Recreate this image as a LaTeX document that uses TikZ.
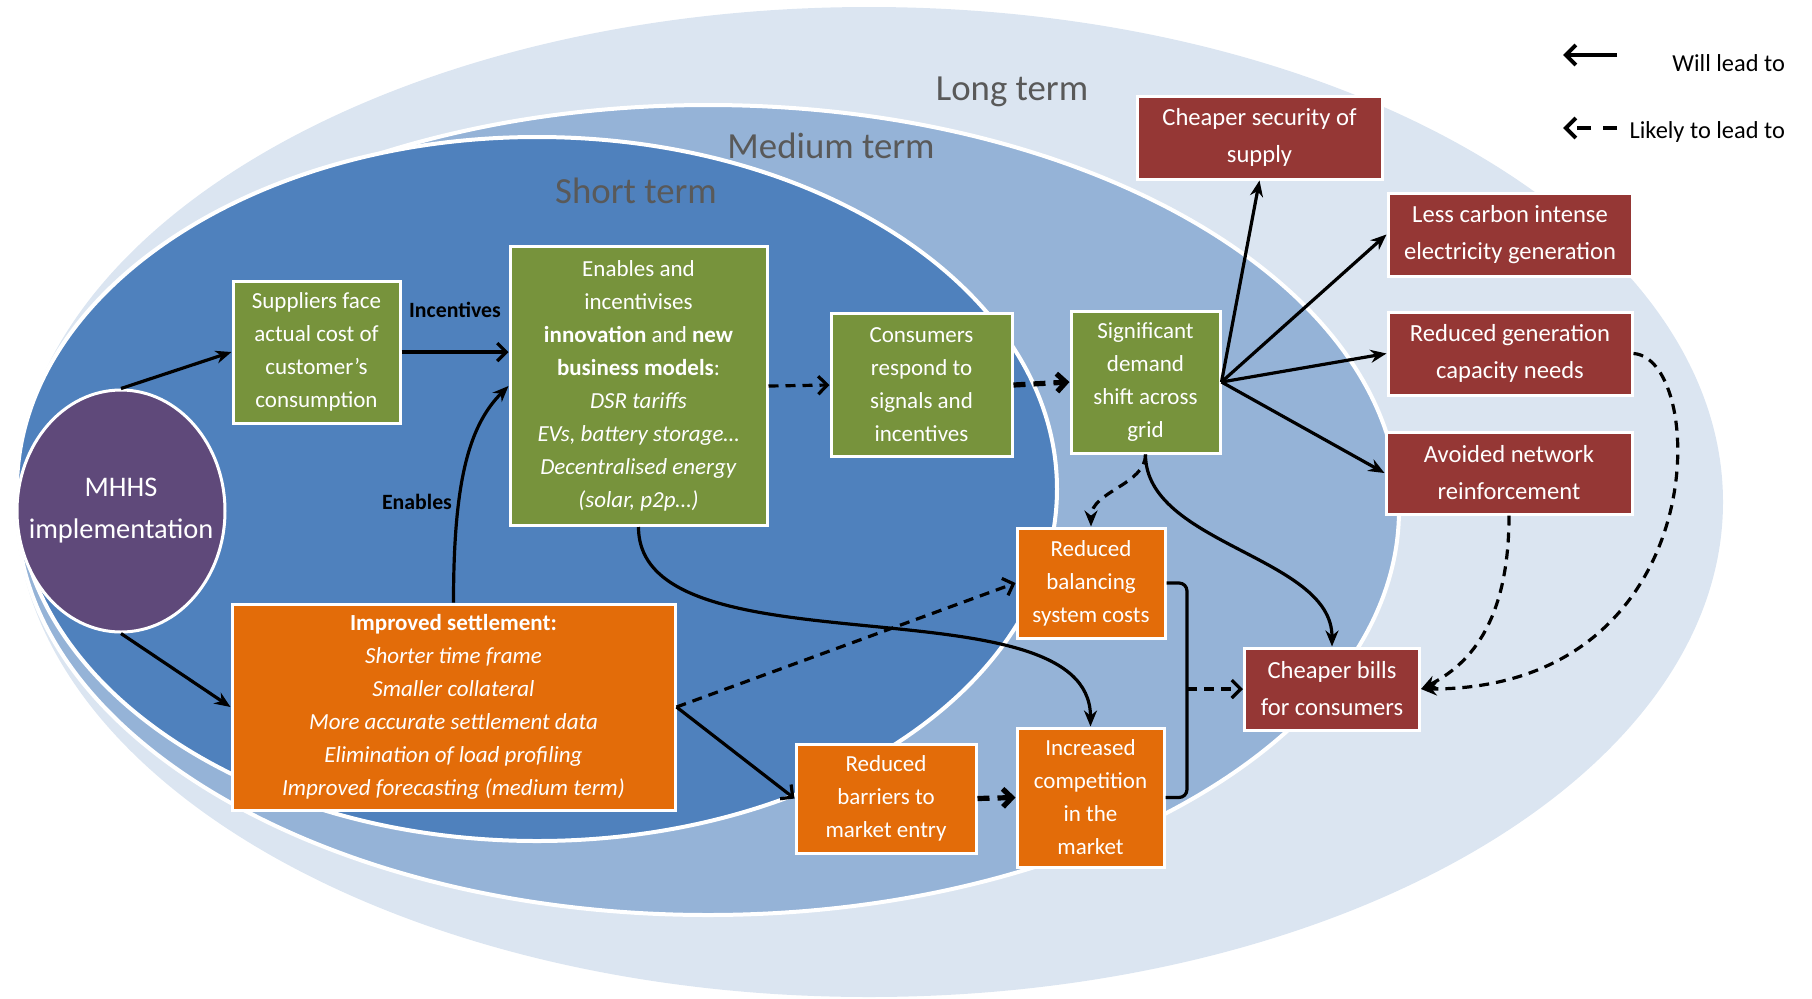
\documentclass[tikz,border=0pt]{standalone}
\usepackage{fontspec}
\setmainfont{Carlito}
\usepackage{xcolor}
\usepackage{tikz}
\usetikzlibrary{arrows.meta, positioning, calc, shapes.geometric}

\definecolor{longterm}{HTML}{DBE5F1}
\definecolor{medterm}{HTML}{95B3D7}
\definecolor{shortterm}{HTML}{4F81BD}
\definecolor{boxgreen}{HTML}{77933C}
\definecolor{boxorange}{HTML}{E36C09}
\definecolor{boxred}{HTML}{953735}
\definecolor{mhhspurple}{HTML}{5F497A}
\definecolor{termgray}{HTML}{595959}

\begin{document}
\begin{tikzpicture}[x=0.5pt, y=-0.5pt,
  box/.style={draw=white, line width=1.5pt, text=white, align=center, inner sep=2pt,
    font=\fontsize{11.5}{16.5}\selectfont},
  greenbox/.style={box, fill=boxgreen},
  orangebox/.style={box, fill=boxorange},
  redbox/.style={box, fill=boxred, font=\fontsize{12.3}{18.5}\selectfont},
  term/.style={text=termgray, font=\fontsize{18.4}{22}\selectfont},
  arrowlabel/.style={font=\bfseries\fontsize{10.9}{13}\selectfont},
  legendtext/.style={anchor=east, font=\fontsize{12.2}{14}\selectfont},
  lead/.style={line width=1.6pt},
  likely/.style={line width=1.6pt, dash pattern=on 5pt off 3.5pt},
  thickdash/.style={line width=2.6pt, dash pattern=on 6pt off 4pt},
  fillhead/.style={-{Stealth[length=8pt, width=6.5pt]}},
  openhead/.style={-{Straight Barb[length=4.5pt, width=9pt]}},
]
  \useasboundingbox (0,0) rectangle (1812,998);

  % Long, medium and short term
  \fill[longterm] (869,502) ellipse [x radius=427pt, y radius=247.5pt];
  \draw[white, line width=2pt, fill=medterm] (708,510) ellipse [x radius=345.5pt, y radius=202.5pt];
  \draw[white, line width=2pt, fill=shortterm] (537,489) ellipse [x radius=260pt, y radius=176pt];

  \node[term] (longlabel) at (1012,92) {Long term};
  \node[term] (medlabel) at (831,146) {Medium term};
  \node[term] (shortlabel) at (636,191) {Short term};

  % MHHS
  \node[ellipse, draw=white, line width=1.5pt, fill=mhhspurple, inner sep=0pt,
    minimum width=104pt, minimum height=121pt] (mhhs) at (121,511) {};
  \node[text=white, align=center, font=\fontsize{14.2}{21}\selectfont] (mhhstext) at (mhhs) {MHHS\\implementation};

  % Short term boxes
  \node[greenbox, minimum width=83.5pt, minimum height=71pt] (sup) at (316.5,352)
    {Suppliers face\\actual cost of\\customer’s\\consumption};
  \node[greenbox, minimum width=128.5pt, minimum height=139.5pt] (enab) at (638.5,386)
    {Enables and\\incentivises\\\textbf{innovation} and \textbf{new}\\\textbf{business models}:\\
     \textit{DSR tariffs}\\\textit{EVs, battery storage…}\\\textit{Decentralised energy}\\\textit{(solar, p2p…)}};
  \node[greenbox, minimum width=90.5pt, minimum height=71.5pt] (cons) at (921.5,385)
    {Consumers\\respond to\\signals and\\incentives};
  \node[orangebox, minimum width=221.5pt, minimum height=103pt] (sett) at (453.5,707)
    {\textbf{Improved settlement:}\\\textit{Shorter time frame}\\\textit{Smaller collateral}\\
     \textit{More accurate settlement data}\\\textit{Elimination of load profiling}\\
     \textit{Improved forecasting (medium term)}};

  % Medium term boxes
  \node[greenbox, minimum width=74.5pt, minimum height=71pt] (sig) at (1145.5,382)
    {Significant\\demand\\shift across\\grid};
  \node[orangebox, minimum width=74pt, minimum height=55pt] (bal) at (1091,583)
    {Reduced\\balancing\\system costs};
  \node[orangebox, minimum width=73.5pt, minimum height=69.5pt] (comp) at (1090.5,797.5)
    {Increased\\competition\\in the\\market};
  \node[orangebox, minimum width=90pt, minimum height=54.5pt] (barr) at (886,798.5)
    {Reduced\\barriers to\\market entry};

  % Long term boxes
  \node[redbox, minimum width=122.5pt, minimum height=41.5pt] (sec) at (1259.5,137.5)
    {Cheaper security of\\supply};
  \node[redbox, minimum width=122pt, minimum height=41.5pt] (carb) at (1510,234.5)
    {Less carbon intense\\electricity generation};
  \node[redbox, minimum width=122pt, minimum height=41.5pt] (gen) at (1510,353.5)
    {Reduced generation\\capacity needs};
  \node[redbox, minimum width=123pt, minimum height=41pt] (netw) at (1509,473)
    {Avoided network\\reinforcement};
  \node[redbox, minimum width=87.5pt, minimum height=41pt] (bills) at (1332,689)
    {Cheaper bills\\for consumers};

  % Connectors
  \draw[lead, fillhead] (mhhs.north) -- (sup.west);
  \draw[lead, fillhead] (mhhs.south) -- (sett.west);
  \draw[lead, openhead] (sup.east) -- (sup.east -| enab.west)
    node[midway, above=13pt, arrowlabel] {Incentives};
  \draw[lead, fillhead] (sett.north) .. controls +(0,-120) and +(-40,40) .. (enab.west);
  \node[arrowlabel] (enablabel) at (417,502) {Enables};
  \draw[likely, openhead] (enab.east) -- (cons.west);
  \draw[thickdash, openhead] (cons.east) -- (sig.west);
  \foreach \dest/\side in {sec/south, carb/west, gen/west, netw/west}
    \draw[lead, fillhead] (sig.east) -- (\dest.\side);
  \draw[likely, fillhead] (sig.south) .. controls +(0,30) and +(0,-35) .. (bal.north);
  \draw[lead, fillhead] (sig.south) .. controls +(0,90) and +(0,-90) .. (bills.north);
  \draw[lead, fillhead] (enab.south) .. controls +(0,150) and +(0,-150) .. (comp.north);
  \draw[likely, openhead] (sett.east) -- (bal.west);
  \draw[lead, openhead] (sett.east) -- (barr.west);
  \draw[thickdash, openhead] (barr.east) -- (comp.west);
  \coordinate (brace) at (1187,689);
  \draw[lead, rounded corners=4pt] (bal.east) -| (brace) |- (comp.east);
  \draw[likely, openhead] (brace) -- (brace -| bills.west);
  \draw[likely, fillhead] (netw.south) .. controls +(0,90) and +(60,-30) .. (bills.east);
  \draw[likely, fillhead] (gen.east) .. controls +(75,5) and +(295,0) .. (bills.east);

  % Legend
  \coordinate (willstart) at (1617,55);
  \coordinate (willend) at (1563,55);
  \draw[line width=2pt, -{Straight Barb[length=5pt, width=10pt]}] (willstart) -- (willend);
  \node[legendtext] (willtext) at (1792,63) {Will lead to};
  \coordinate (likelystart) at (1617,128);
  \coordinate (likelyend) at (1563,128);
  \draw[line width=2pt, dash pattern=on 7pt off 6pt, -{Straight Barb[length=5pt, width=10pt]}] (likelystart) -- (likelyend);
  \node[legendtext] (likelytext) at (1792,132) {Likely to lead to};
\end{tikzpicture}
\end{document}
